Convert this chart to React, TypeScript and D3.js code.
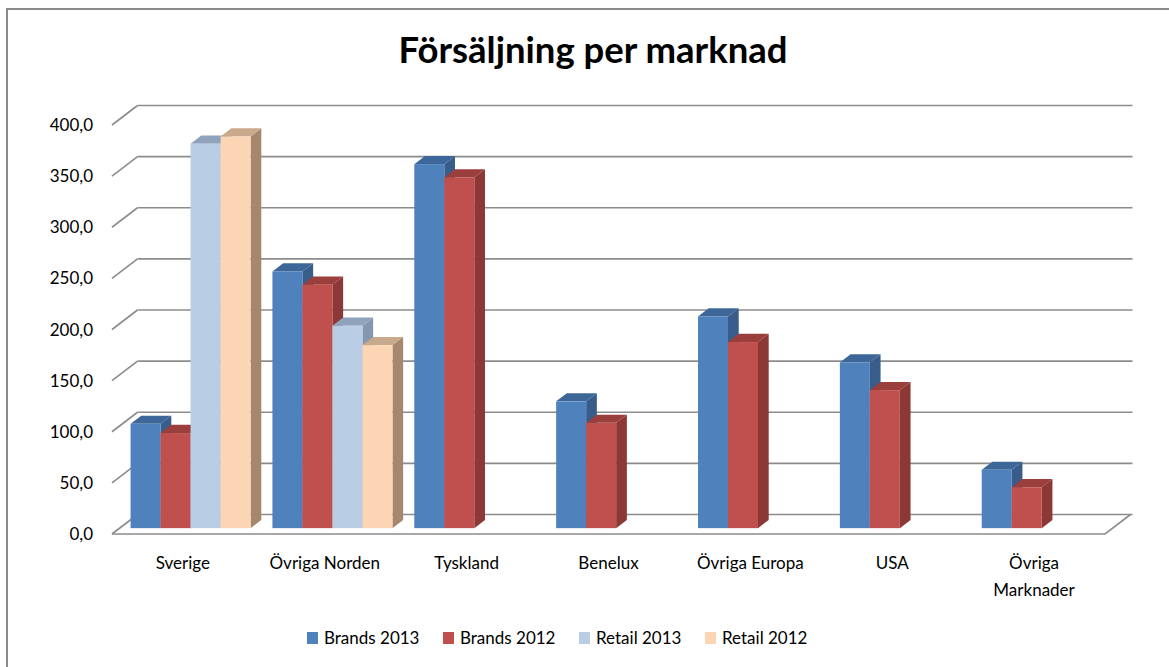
import * as d3 from "d3";

const categories = ["Sverige", "Övriga Norden", "Tyskland", "Benelux", "Övriga Europa", "USA", "Övriga Marknader"];
const seriesNames = ["Brands 2013", "Brands 2012", "Retail 2013", "Retail 2012"];
const brands2013 = [102, 251, 356, 124, 207, 162, 57];
const brands2012 = [93, 238, 343, 103, 182, 135, 40];
const retail2013 = [376, 198, null, null, null, null, null];
const retail2012 = [383, 179, null, null, null, null, null];
const yTicks = [0, 50, 100, 150, 200, 250, 300, 350, 400];

const seriesValues = [brands2013, brands2012, retail2013, retail2012];
// front / side / top colours per series
const palette = [
  { front: "#4f81bd", side: "#385d8a", top: "#3d6798" },
  { front: "#c0504d", side: "#8c3836", top: "#9a3f3c" },
  { front: "#b9cde5", side: "#8496b0", top: "#8fa3bd" },
  { front: "#fcd5b5", side: "#a6876d", top: "#c9a98c" },
];

const W = 1169;
const H = 667;
const FONT = "Lato, 'Open Sans', sans-serif";
const FS = 17;

// oblique depth vector (front -> back wall)
const DX = 25.5;
const DY = -19.5;
const Z0 = 0.3;
const Z1 = 0.72;

const FLOOR_L = 112;
const FLOOR_R = 1105;
const Y0 = 534;
const Y400 = 125;

export default function App() {
  const x = d3.scaleBand<string>().domain(categories).range([FLOOR_L, FLOOR_R]).paddingInner(0).paddingOuter(0);
  const y = d3.scaleLinear().domain([0, 400]).range([Y0, Y400]);
  const groupW = 120;
  const xs = d3.scaleBand<string>().domain(seriesNames).range([0, groupW]).padding(0);

  const pt = (px: number, py: number, z: number) => `${px + DX * z},${py + DY * z}`;

  const bars: JSX.Element[] = [];
  categories.forEach((c, ci) => {
    const cx = (x(c) as number) + x.bandwidth() / 2;
    const gx = cx - groupW / 2;
    seriesNames.forEach((s, si) => {
      const v = seriesValues[si][ci];
      if (v == null) return;
      const x0 = gx + (xs(s) as number);
      const x1 = x0 + xs.bandwidth();
      const yt = y(v);
      const yb = y(0);
      const col = palette[si];
      bars.push(
        <g key={`${ci}-${si}`}>
          <polygon
            points={[pt(x1, yb, Z0), pt(x1, yt, Z0), pt(x1, yt, Z1), pt(x1, yb, Z1)].join(" ")}
            fill={col.side}
          />
          <polygon
            points={[pt(x0, yt, Z0), pt(x1, yt, Z0), pt(x1, yt, Z1), pt(x0, yt, Z1)].join(" ")}
            fill={col.top}
          />
          <rect
            x={x0 + DX * Z0}
            y={yt + DY * Z0}
            width={x1 - x0}
            height={yb - yt}
            fill={col.front}
          />
        </g>
      );
    });
  });

  const gridColor = "#8c8c8c";

  return (
    <svg width={W} height={H} style={{ position: "absolute", left: 0, top: 0, background: "#fff" }}>
      <rect x={7} y={9} width={W + 10} height={H + 10} fill="#fff" stroke="#8a8a8a" strokeWidth={2} />
      <text x={593} y={63} textAnchor="middle" fontFamily={FONT} fontWeight={700} fontSize={36.5} fill="#000">
        Försäljning per marknad
      </text>

      {/* back wall gridlines + side wall diagonals */}
      {yTicks.map((t) => (
        <g key={t}>
          <line x1={FLOOR_L + DX} x2={FLOOR_R + DX + 2} y1={y(t) + DY} y2={y(t) + DY} stroke={gridColor} strokeWidth={1.6} />
          <line x1={FLOOR_L} x2={FLOOR_L + DX} y1={y(t)} y2={y(t) + DY} stroke={gridColor} strokeWidth={1.6} />
          <text x={93} y={y(t) + 6} textAnchor="end" fontFamily={FONT} fontSize={FS} fill="#000">
            {d3.format(".1f")(t).replace(".", ",")}
          </text>
        </g>
      ))}
      {/* floor outline */}
      <polyline
        points={`${FLOOR_L},${Y0} ${FLOOR_R},${Y0} ${FLOOR_R + DX},${Y0 + DY}`}
        fill="none"
        stroke={gridColor}
        strokeWidth={1.6}
      />

      {bars}

      {categories.map((c) => {
        const cx = (x(c) as number) + x.bandwidth() / 2;
        const parts = c === "Övriga Marknader" ? ["Övriga", "Marknader"] : [c];
        return (
          <text key={c} x={cx} y={569} textAnchor="middle" fontFamily={FONT} fontSize={FS} fill="#000">
            {parts.map((p, i) => (
              <tspan key={i} x={cx} dy={i === 0 ? 0 : 27}>
                {p}
              </tspan>
            ))}
          </text>
        );
      })}

      {seriesNames.map((s, i) => {
        const lx = [307, 443, 579, 705][i];
        return (
          <g key={s}>
            <rect x={lx} y={632} width={11} height={12} fill={palette[i].front} />
            <text x={lx + 17} y={644} fontFamily={FONT} fontSize={FS} fill="#000">
              {s}
            </text>
          </g>
        );
      })}
    </svg>
  );
}
